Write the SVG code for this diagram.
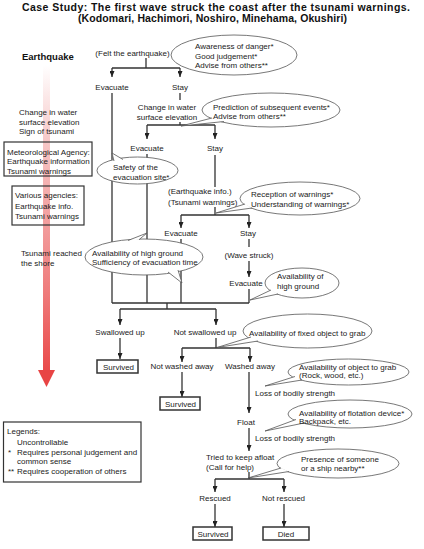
<svg xmlns="http://www.w3.org/2000/svg" width="424" height="549" viewBox="0 0 424 549">
<defs>
<linearGradient id="red" x1="0" y1="65" x2="0" y2="387" gradientUnits="userSpaceOnUse">
<stop offset="0" stop-color="#ffffff"/>
<stop offset="0.25" stop-color="#f6c4c4"/>
<stop offset="0.7" stop-color="#ef7c7c"/>
<stop offset="1" stop-color="#e84040"/>
</linearGradient>
<marker id="ah" markerUnits="userSpaceOnUse" markerWidth="6" markerHeight="5" refX="6" refY="2.5" orient="auto">
<path d="M0,0 L6,2.5 L0,5 z" fill="#222"/>
</marker>
<style>
.t{font-family:"Liberation Sans",Arial,sans-serif;font-size:8px;fill:#222}
.c{text-anchor:middle}
.ttl{font-family:"Liberation Sans",Arial,sans-serif;font-size:10.5px;font-weight:bold;fill:#111}
.ln{stroke:#333;stroke-width:1.3;fill:none}
.ar{stroke:#333;stroke-width:1.3;fill:none;marker-end:url(#ah)}
.bub{fill:#fff;stroke:#555;stroke-width:0.8}
.box{fill:#fff;stroke:#333;stroke-width:1.5}
.frame{fill:none;stroke:#333;stroke-width:1.2}
</style>
</defs>
<rect x="0" y="0" width="424" height="549" fill="#fff"/>

<g id="title">
<text class="ttl" x="22" y="10.5" textLength="388" lengthAdjust="spacing">Case Study: The first wave struck the coast after the tsunami warnings.</text>
<text class="ttl" x="78" y="22" textLength="269" lengthAdjust="spacing">(Kodomari, Hachimori, Noshiro, Minehama, Okushiri)</text>
</g>

<g id="timeline">
<rect x="43" y="65" width="7" height="306" fill="url(#red)"/>
<polygon points="38,370 55,370 46.5,387" fill="#e84444"/>
<text x="22" y="59.5" style="font-family:'Liberation Sans',Arial,sans-serif;font-size:9.5px;font-weight:bold;fill:#111">Earthquake</text>
<text class="t" x="19" y="114.5">Change in water</text>
<text class="t" x="19" y="124.5">surface elevation</text>
<text class="t" x="19" y="134">Sign of tsunami</text>
<text class="t" x="21" y="256">Tsunami reached</text>
<text class="t" x="21" y="265.5">the shore</text>
</g>

<g id="met-agency">
<rect class="frame" x="4" y="142" width="88" height="34"/>
<text class="t" x="7" y="154.5">Meteorological Agency:</text>
<text class="t" x="7" y="164">Earthquake information</text>
<text class="t" x="7" y="173.5">Tsunami warnings</text>
</g>

<g id="various-agencies">
<rect class="frame" x="12" y="186" width="72" height="39"/>
<text class="t" x="15" y="198">Various agencies:</text>
<text class="t" x="15" y="208.5">Earthquake info.</text>
<text class="t" x="15" y="218.5">Tsunami warnings</text>
</g>

<g id="legend">
<rect class="frame" x="3.5" y="422" width="137.5" height="60"/>
<text class="t" x="7" y="434">Legends:</text>
<text class="t" x="17" y="444.5">Uncontrollable</text>
<text class="t" x="8" y="455">*</text>
<text class="t" x="17" y="455">Requires personal judgement and</text>
<text class="t" x="17" y="464">common sense</text>
<text class="t" x="8" y="473.5">**</text>
<text class="t" x="17" y="473.5">Requires cooperation of others</text>
</g>

<g id="connectors">
<path class="ln" d="M146,58 V68 M112,68 H180"/>
<path class="ar" d="M112,68 V77"/>
<path class="ar" d="M180,68 V77"/>
<path class="ln" d="M180,93 V100 M180,122 V125 M147,125 H215"/>
<path class="ar" d="M147,125 V139"/>
<path class="ar" d="M215,125 V139"/>
<path class="ln" d="M112,93 V303"/>
<path class="ln" d="M147,154 V303"/>
<path class="ln" d="M215,155 V187 M215,207 V215 M181,215 H249"/>
<path class="ar" d="M181,215 V228"/>
<path class="ar" d="M249,215 V228"/>
<path class="ln" d="M181,239 V303"/>
<path class="ln" d="M249,239 V247"/>
<path class="ar" d="M249,261 V277"/>
<path class="ln" d="M249,289 V303 M112,303 H249 M167,303 V309 M120,309 H216"/>
<path class="ar" d="M120,309 V325"/>
<path class="ar" d="M216,309 V325"/>
<path class="ar" d="M120,338 V359"/>
<path class="ln" d="M216,338 V348 M182,348 H250"/>
<path class="ar" d="M182,348 V362"/>
<path class="ar" d="M250,348 V362"/>
<path class="ar" d="M182,372 V397"/>
<path class="ar" d="M249,372 V413"/>
<path class="ar" d="M249,428 V451"/>
<path class="ln" d="M249,472 V479 M215,479 H284"/>
<path class="ar" d="M215,479 V492"/>
<path class="ar" d="M284,479 V492"/>
<path class="ar" d="M215,504 V527"/>
<path class="ar" d="M284,504 V527"/>
</g>

<g id="felt">
<text class="t c" x="132.5" y="56">(Felt the earthquake)</text>
</g>
<g id="bubble-awareness">
<ellipse class="bub" cx="234" cy="55" rx="63" ry="20"/>
<text class="t" x="195" y="49">Awareness of danger*</text>
<text class="t" x="195" y="58.5">Good judgement*</text>
<text class="t" x="195" y="68">Advise from others**</text>
</g>
<g id="evacuate-1"><text class="t c" x="112" y="90">Evacuate</text></g>
<g id="stay-1"><text class="t c" x="180" y="90">Stay</text></g>
<g id="change-water">
<text class="t c" x="167" y="110">Change in water</text>
<text class="t c" x="167" y="120">surface elevation</text>
</g>
<g id="bubble-prediction">
<ellipse class="bub" cx="271" cy="110" rx="69" ry="17"/>
<path class="bub" d="M212,118 L181,126 L224,121.5"/>
<text class="t" x="213" y="109.5">Prediction of subsequent events*</text>
<text class="t" x="213" y="119">Advise from others**</text>
</g>
<g id="evacuate-2"><text class="t c" x="147" y="151">Evacuate</text></g>
<g id="stay-2"><text class="t c" x="215" y="151">Stay</text></g>
<g id="bubble-safety">
<ellipse class="bub" cx="137.5" cy="170.5" rx="40.5" ry="13.5"/>
<path class="bub" d="M114,161 L112,153 L123,159.5"/>
<text class="t" x="113" y="170">Safety of the</text>
<text class="t" x="113" y="180">evacuation site*</text>
</g>
<g id="eq-info">
<text class="t" x="168" y="193.5">(Earthquake info.)</text>
<text class="t" x="168" y="204.5">(Tsunami warnings)</text>
</g>
<g id="bubble-reception">
<ellipse class="bub" cx="300" cy="198.5" rx="60" ry="16.5"/>
<path class="bub" d="M245,204 L216,213 L252,208"/>
<text class="t" x="251" y="196.5">Reception of warnings*</text>
<text class="t" x="251" y="206.5">Understanding of warnings*</text>
</g>
<g id="evacuate-3"><text class="t c" x="181" y="236">Evacuate</text></g>
<g id="stay-3"><text class="t c" x="248" y="236">Stay</text></g>
<g id="wave-struck"><text class="t c" x="249" y="257.5">(Wave struck)</text></g>
<g id="evacuate-4"><text class="t c" x="246" y="286">Evacuate</text></g>
<g id="bubble-high-ground-2">
<ellipse class="bub" cx="302" cy="283" rx="37" ry="15"/>
<path class="bub" d="M271,290 L250,300 L278,294"/>
<text class="t" x="277" y="278.5">Availability of</text>
<text class="t" x="277" y="288.5">high ground</text>
</g>
<g id="bubble-high-ground-1">
<ellipse class="bub" cx="144" cy="257" rx="59" ry="18"/>
<path class="bub" d="M128,240.5 L147,233 L139,239.7"/>
<path class="bub" d="M168,272 L182,283 L178,270"/>
<text class="t" x="92" y="255.5">Availability of high ground</text>
<text class="t" x="92" y="265">Sufficiency of evacuation time</text>
</g>
<g id="swallowed"><text class="t c" x="120" y="335">Swallowed up</text></g>
<g id="not-swallowed"><text class="t c" x="205" y="335">Not swallowed up</text></g>
<g id="bubble-fixed">
<ellipse class="bub" cx="307.5" cy="331" rx="64.5" ry="17"/>
<path class="bub" d="M251,337 L217,347.5 L258,341"/>
<text class="t" x="249" y="335.5">Availability of fixed object to grab</text>
</g>
<g id="survived-1">
<rect class="box" x="97" y="360" width="41" height="13"/>
<text class="t c" x="118.5" y="369.5">Survived</text>
</g>
<g id="not-washed"><text class="t c" x="182" y="369">Not washed away</text></g>
<g id="washed"><text class="t c" x="250" y="369">Washed away</text></g>
<g id="bubble-object">
<ellipse class="bub" cx="348.5" cy="372" rx="60.5" ry="13"/>
<path class="bub" d="M295,376.5 L265,386 L302,380"/>
<text class="t" x="299" y="369.5">Availability of object to grab</text>
<text class="t" x="299" y="378">(Rock, wood, etc.)</text>
</g>
<g id="loss-1"><text class="t" x="255" y="396">Loss of bodily strength</text></g>
<g id="survived-2">
<rect class="box" x="160" y="397" width="40" height="13"/>
<text class="t c" x="180.5" y="406.5">Survived</text>
</g>
<g id="float"><text class="t c" x="246" y="425">Float</text></g>
<g id="bubble-flotation">
<ellipse class="bub" cx="350" cy="414" rx="62" ry="14"/>
<path class="bub" d="M296,419.5 L265,431 L304,423"/>
<text class="t" x="299" y="415.5">Availability of flotation device*</text>
<text class="t" x="299" y="423.5">Backpack, etc.</text>
</g>
<g id="loss-2"><text class="t" x="255" y="441">Loss of bodily strength</text></g>
<g id="tried">
<text class="t" x="206" y="460">Tried to keep afloat</text>
<text class="t" x="206" y="470">(Call for help)</text>
</g>
<g id="bubble-presence">
<ellipse class="bub" cx="338" cy="463.5" rx="61" ry="14.5"/>
<path class="bub" d="M281,468 L248,478 L289,471.5"/>
<text class="t" x="301" y="462">Presence of someone</text>
<text class="t" x="301" y="471">or a ship nearby**</text>
</g>
<g id="rescued"><text class="t c" x="215" y="501">Rescued</text></g>
<g id="not-rescued"><text class="t c" x="283.5" y="501">Not rescued</text></g>
<g id="survived-3">
<rect class="box" x="193" y="527" width="39" height="13"/>
<text class="t c" x="213" y="536.5">Survived</text>
</g>
<g id="died">
<rect class="box" x="263" y="527" width="46" height="13"/>
<text class="t c" x="286" y="536.5">Died</text>
</g>
</svg>
